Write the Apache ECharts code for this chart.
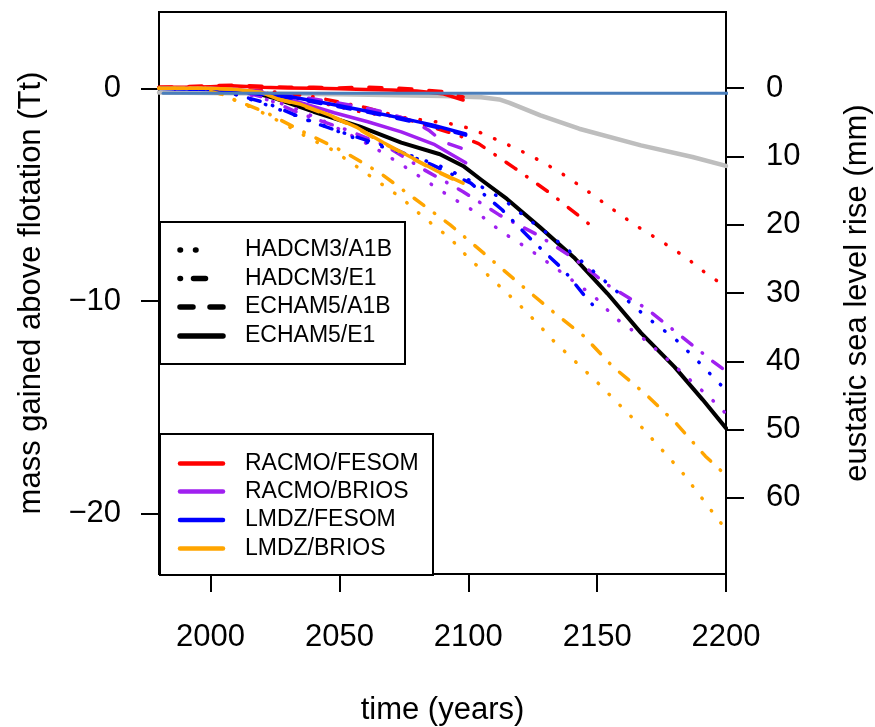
<!DOCTYPE html>
<html><head><meta charset="utf-8">
<script src="https://cdn.jsdelivr.net/npm/echarts@6/dist/echarts.min.js"></script>
<style>html,body{margin:0;padding:0;background:#fff}#c{width:875px;height:727px}</style>
</head><body><div id="c"></div>
<script>
// ---- axis ticks ----
const xTicks = [2000, 2050, 2100, 2150, 2200];
const yTicksTt = [-20, -10, 0];
const yTicksMm = [0, 10, 20, 30, 40, 50, 60];

// ---- RACMO/FESOM (red) ----
const rfE1 = [[1980,0.05],[1990,0.05],[2000,0.08],[2008,0.12],[2020,0.05],[2030,0.02],[2040,0],[2050,-0.02],[2060,-0.05],[2070,-0.08],[2080,-0.12],[2090,-0.25],[2098,-0.55]];
const rfA1B = [[1980,0.05],[1990,0.08],[2000,0.12],[2008,0.15],[2020,0.1],[2030,0.05],[2040,0.05],[2050,0.02],[2060,0.05],[2070,0.02],[2080,-0.05],[2090,-0.15],[2098,-0.4]];
const rfHE1 = [[1980,0],[2000,0],[2020,-0.1],[2040,-0.4],[2060,-0.9],[2072,-1.3],[2088,-1.9],[2096,-2.2],[2104,-2.6],[2118,-3.75],[2132,-4.95],[2145,-6.2],[2147,-6.4]];
const rfHA1B = [[1980,0],[2000,-0.05],[2020,-0.2],[2040,-0.6],[2060,-1.15],[2080,-1.45],[2095,-1.7],[2102,-1.94],[2113,-2.52],[2124,-3.15],[2135,-3.9],[2145,-4.72],[2155,-5.6],[2165,-6.45],[2175,-7.2],[2185,-8.0],[2190,-8.5],[2200,-9.35]];

// ---- RACMO/BRIOS (purple) ----
const rbE1 = [[1980,0],[2000,0],[2010,-0.05],[2020,-0.2],[2033,-0.6],[2048,-1.15],[2061,-1.57],[2074,-2.05],[2087,-2.65],[2099,-3.5]];
const rbA1B = [[1980,0],[2000,0],[2020,-0.15],[2040,-0.5],[2055,-0.8],[2067,-1.1],[2079,-1.57],[2085,-2.0],[2090,-2.5],[2098,-2.85]];
const rbHE1 = [[1980,0],[2000,0],[2010,-0.1],[2020,-0.4],[2035,-1.2],[2053,-1.96],[2068,-2.7],[2083,-3.84],[2098,-4.86],[2112,-5.95],[2127,-6.9],[2141,-8.0],[2154,-9.24],[2169,-10.35],[2182,-11.6],[2195,-12.85],[2200,-13.3]];
const rbHA1B = [[1980,0],[2000,-0.05],[2015,-0.3],[2030,-0.8],[2045,-1.6],[2063,-2.75],[2073,-3.5],[2083,-4.3],[2093,-5.1],[2104,-5.9],[2113,-6.75],[2124,-7.6],[2134,-8.46],[2149,-9.8],[2157,-10.8],[2167,-11.67],[2176,-12.6],[2185,-13.6],[2194,-14.57],[2200,-15.3]];

// ---- LMDZ/FESOM (blue) ----
const lfE1 = [[1980,0],[2000,-0.05],[2015,-0.2],[2031,-0.4],[2047,-0.75],[2060,-1.05],[2074,-1.4],[2086,-1.72],[2099,-2.15]];
const lfA1B = [[1980,0],[2000,-0.05],[2015,-0.22],[2031,-0.45],[2047,-0.8],[2060,-1.1],[2074,-1.45],[2086,-1.78],[2099,-2.2]];
const lfHE1 = [[1980,0],[2000,-0.05],[2010,-0.3],[2022,-0.7],[2039,-1.57],[2054,-2.19],[2070,-2.8],[2086,-3.6],[2101,-4.46],[2113,-5.7],[2125,-7.18],[2137,-8.54],[2147,-10.03],[2151,-10.5]];
const lfHA1B = [[1980,0],[2000,-0.05],[2010,-0.3],[2020,-0.7],[2030,-1.15],[2045,-1.8],[2057,-2.4],[2075,-3.05],[2088,-3.6],[2094,-3.93],[2103,-4.48],[2114,-5.26],[2123,-6.13],[2133,-7.03],[2142,-7.93],[2152,-8.96],[2161,-9.9],[2170,-10.84],[2180,-11.75],[2189,-12.82],[2200,-14.2]];

// ---- LMDZ/BRIOS (orange) ----
const lbE1 = [[1980,0],[2000,0],[2010,-0.05],[2020,-0.2],[2026,-0.5],[2035,-0.75],[2046,-1.25],[2057,-1.85],[2067,-2.55],[2078,-3.25],[2088,-3.9],[2098,-4.46]];
const lbA1B = [[1980,0],[2000,0],[2010,-0.05],[2020,-0.2],[2026,-0.5],[2035,-0.78],[2046,-1.28],[2057,-1.88],[2067,-2.58],[2078,-3.28],[2088,-3.93],[2098,-4.5]];
const lbHE1 = [[1980,0],[1995,0],[2005,-0.3],[2011,-0.63],[2021,-1.1],[2036,-2.05],[2052,-3.0],[2066,-4.0],[2079,-5.17],[2093,-6.42],[2106,-7.75],[2119,-9.1],[2132,-10.42],[2145,-11.67],[2156,-13.08],[2169,-14.4],[2181,-15.8],[2192,-17.3],[2200,-18.2]];
const lbHA1B = [[1980,0],[1998,0],[2005,-0.3],[2011,-0.65],[2017,-0.95],[2029,-1.7],[2039,-2.4],[2046,-2.8],[2054,-3.45],[2064,-4.3],[2074,-5.15],[2083,-6.1],[2093,-7.05],[2101,-8.1],[2106,-8.6],[2120,-10.2],[2128,-11.2],[2132,-11.75],[2150,-13.82],[2167,-15.9],[2183,-18.06],[2198,-20.44],[2200,-20.7]];

// ---- other curves ----
const blackLine = [[1980,0],[2000,0],[2010,-0.1],[2020,-0.3],[2025,-0.47],[2040,-1.1],[2058,-1.8],[2074,-2.55],[2089,-3.1],[2098,-3.65],[2105,-4.3],[2115,-5.2],[2128,-6.55],[2141,-7.95],[2154,-9.65],[2167,-11.5],[2180,-13.1],[2191,-14.65],[2200,-15.98]];
const grayLine = [[1980,-0.2],[2000,-0.22],[2050,-0.28],[2090,-0.36],[2105,-0.42],[2112,-0.52],[2116,-0.68],[2128,-1.27],[2143,-1.9],[2167,-2.68],[2187,-3.23],[2200,-3.65]];
const refLine = [[1981.6,-0.235],[2205,-0.235]];

// ---- legend labels ----
const forcingLabels = ['HADCM3/A1B','HADCM3/E1','ECHAM5/A1B','ECHAM5/E1'];
const modelLabels = ['RACMO/FESOM','RACMO/BRIOS','LMDZ/FESOM','LMDZ/BRIOS'];

const COL = {red:'#ff0000', purple:'#a020f0', blue:'#0000ff', orange:'#ffa500'};
const DOT = [0.5, 15], DOTDASH = [0.5, 13, 12, 13], DASH = [13, 17];
const FONT = '"Liberation Sans", Arial, Helvetica, sans-serif';

function mk(data, color, type, width, extra) {
  return Object.assign({
    type: 'line', data: data, showSymbol: false, symbol: 'none', silent: true,
    animation: false, z: 3,
    lineStyle: {color: color, width: width, type: type, cap: 'round', join: 'round'}
  }, extra || {});
}

const series = [
  mk(blackLine, '#000', 'solid', 4),
  mk(grayLine, '#bebebe', 'solid', 4.5),
  mk(rfE1, COL.red, 'solid', 3.5), mk(rfA1B, COL.red, DASH, 3.5), mk(rfHE1, COL.red, DOTDASH, 3.5), mk(rfHA1B, COL.red, DOT, 3.5),
  mk(rbE1, COL.purple, 'solid', 3.5), mk(rbA1B, COL.purple, DASH, 3.5), mk(rbHE1, COL.purple, DOTDASH, 3.5), mk(rbHA1B, COL.purple, DOT, 3.5),
  mk(lfE1, COL.blue, 'solid', 3.5), mk(lfA1B, COL.blue, DASH, 3.5), mk(lfHE1, COL.blue, DOTDASH, 3.5), mk(lfHA1B, COL.blue, DOT, 3.5),
  mk(lbE1, COL.orange, 'solid', 3.5), mk(lbA1B, COL.orange, DASH, 3.5), mk(lbHE1, COL.orange, DOTDASH, 3.5), mk(lbHA1B, COL.orange, DOT, 3.5),
  mk(refLine, '#4a7ebb', 'solid', 3, {clip: false, z: 4})
];

// legend graphics
const graphic = [];
graphic.push({type:'rect', shape:{x:160, y:222, width:245, height:142}, style:{fill:'#fff', stroke:'#000', lineWidth:2}, z:10});
graphic.push({type:'rect', shape:{x:160, y:434, width:273, height:141}, style:{fill:'#fff', stroke:'#000', lineWidth:2}, z:10});
const box1Y = [250, 278.5, 307, 336];
const glyphs = [{d: DOT, x2: 211}, {d: DOTDASH, x2: 206}, {d: DASH, x2: 223}, {d: null, x2: 223}];
forcingLabels.forEach((t, i) => {
  graphic.push({type:'line', shape:{x1:180, y1:box1Y[i], x2:glyphs[i].x2, y2:box1Y[i]},
    style:{stroke:'#000', lineWidth:5.5, lineDash: glyphs[i].d, lineCap:'round'}, z:11});
  graphic.push({type:'text', x:245, y:box1Y[i], style:{text:t, fill:'#000', font:'23px ' + FONT, verticalAlign:'middle'}, z:11});
});
const box2Y = [463.5, 491.5, 520, 548.5];
const cols = [COL.red, COL.purple, COL.blue, COL.orange];
modelLabels.forEach((t, i) => {
  graphic.push({type:'line', shape:{x1:180, y1:box2Y[i], x2:223, y2:box2Y[i]},
    style:{stroke:cols[i], lineWidth:4.5, lineCap:'round'}, z:11});
  graphic.push({type:'text', x:245, y:box2Y[i], style:{text:t, fill:'#000', font:'23px ' + FONT, verticalAlign:'middle'}, z:11});
});

const minus = v => String(v).replace('-', '\u2212');
const labelStyle = {color:'#000', fontSize:31, fontFamily: FONT};
const tickStyle = {show:true, length:18, lineStyle:{color:'#000', width:2}};

const option = {
  animation: false,
  backgroundColor: '#fff',
  grid: {left:159, right:149, top:12, bottom:153, show:true, borderColor:'#000', borderWidth:2,
         backgroundColor:'transparent', containLabel:false, outerBoundsMode:'none'},
  xAxis: {
    type:'value', min:1980, max:2200,
    axisLine:{show:true, onZero:false, lineStyle:{color:'#000', width:2}},
    axisTick:Object.assign({customValues: xTicks}, tickStyle),
    axisLabel:Object.assign({customValues: xTicks, margin:48, formatter: v => String(v)}, labelStyle),
    splitLine:{show:false},
    name:'time (years)', nameLocation:'middle', nameGap:121,
    nameTextStyle:{color:'#000', fontSize:31, fontFamily: FONT}
  },
  yAxis: [{
    type:'value', position:'left', min:-22.84, max:3.59,
    axisLine:{show:true, onZero:false, lineStyle:{color:'#000', width:2}},
    axisTick:Object.assign({customValues: yTicksTt}, tickStyle),
    axisLabel:Object.assign({customValues: yTicksTt, margin:38, formatter: minus}, labelStyle),
    splitLine:{show:false},
    name:'mass gained above flotation (Tt)', nameLocation:'middle', nameGap:112, nameRotate:90,
    nameTextStyle:{color:'#000', fontSize:31, fontFamily: FONT}
  }, {
    type:'value', position:'right', inverse:true, min:-11.17, max:71.16, alignTicks:false,
    axisLine:{show:true, onZero:false, lineStyle:{color:'#000', width:2}},
    axisTick:Object.assign({customValues: yTicksMm}, tickStyle),
    axisLabel:Object.assign({customValues: yTicksMm, margin:40, formatter: v => String(v)}, labelStyle),
    splitLine:{show:false},
    name:'eustatic sea level rise (mm)', nameLocation:'middle', nameGap:116, nameRotate:90,
    nameTextStyle:{color:'#000', fontSize:31, fontFamily: FONT}
  }],
  series: series,
  graphic: graphic
};
const chart = echarts.init(document.getElementById('c'));
chart.setOption(option);
</script></body></html>
